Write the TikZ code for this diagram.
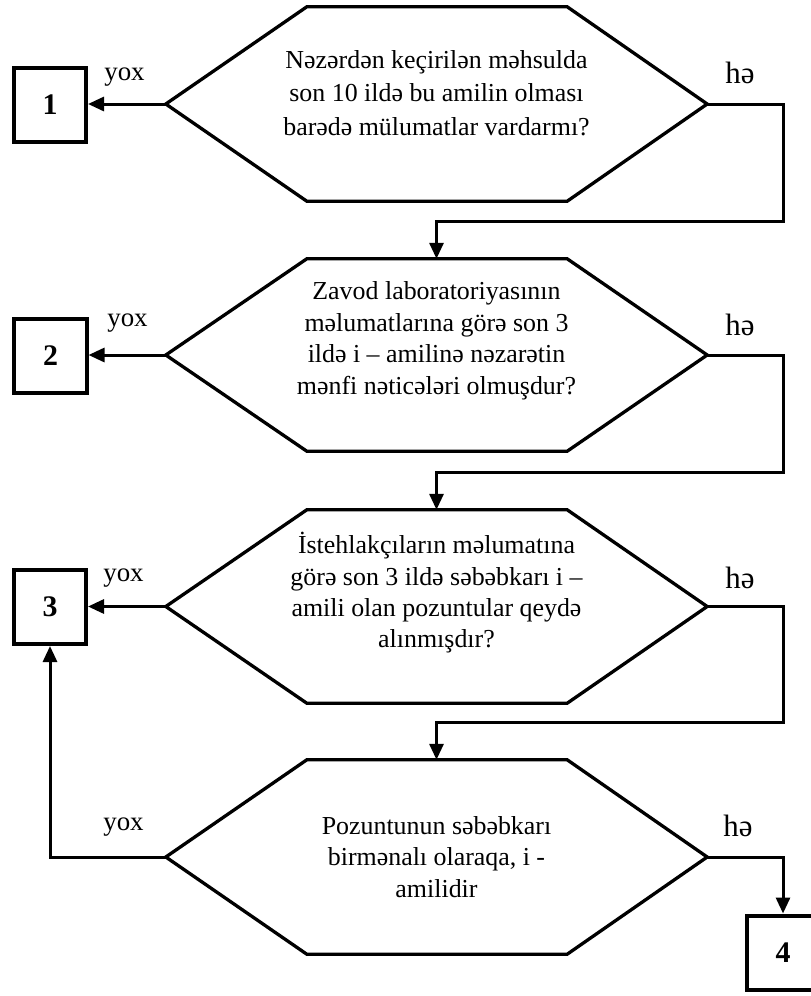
\documentclass[tikz,border=0pt]{standalone}
\usepackage{fontspec}
\setmainfont{Liberation Serif}
\usetikzlibrary{arrows.meta,calc}
\begin{document}
\begin{tikzpicture}[x=1bp,y=-1bp,
  question/.style={minimum width=541bp, minimum height=194bp, inner sep=0pt,
    align=center, font=\fontsize{26}{31.5}\selectfont},
  outline/.style={line width=3.3bp, line join=miter},
  numbox/.style={draw, line width=4bp, minimum width=72bp, minimum height=74bp,
    inner sep=0pt, font=\fontsize{30}{30}\selectfont\bfseries},
  conn/.style={line width=3bp, -{Triangle[length=16bp,width=14bp]}},
  nolbl/.style={inner sep=0pt, font=\fontsize{27}{27}\selectfont},
  yeslbl/.style={inner sep=0pt, font=\fontsize{31}{31}\selectfont},
]
\useasboundingbox (0,0) rectangle (811,996);

% decision blocks
\node[question, font=\fontsize{26}{34}\selectfont, text depth=22bp] (q1) at (436.5,104)
  {Nəzərdən keçirilən məhsulda\\son 10 ildə bu amilin olması\\barədə mülumatlar vardarmı?};
\node[question, minimum height=192bp, text depth=34bp] (q2) at (436.5,355)
  {Zavod laboratoriyasının\\məlumatlarına görə son 3\\ildə i – amilinə nəzarətin\\mənfi nəticələri olmuşdur?};
\node[question, minimum height=193bp, text depth=33bp] (q3) at (436.5,606.5)
  {İstehlakçıların məlumatına\\görə son 3 ildə səbəbkarı i –\\amili olan pozuntular qeydə\\alınmışdır?};
\node[question] (q4) at (436.5,857)
  {Pozuntunun səbəbkarı\\birmənalı olaraqa, i -\\amilidir};

\foreach \q in {q1,q2,q3,q4}
  \draw[outline] (\q.west) -- ([xshift=141bp]\q.north west)
    -- ([xshift=-140bp]\q.north east) -- (\q.east)
    -- ([xshift=-140bp]\q.south east) -- ([xshift=141bp]\q.south west) -- cycle;

% outcome boxes
\node[numbox] (b1) at (50,105) {1};
\node[numbox] (b2) at (50.5,356) {2};
\node[numbox] (b3) at (50,607) {3};
\node[numbox] (b4) at (783,952.5) {4};

% bends of the "yes" paths
\coordinate (j1) at (783,221);
\coordinate (j2) at (783,472);
\coordinate (j3) at (783,722);

% "no" paths
\draw[conn] (q1.west) -- (q1.west -| b1.east);
\draw[conn] (q2.west) -- (q2.west -| b2.east);
\draw[conn] (q3.west) -- (q3.west -| b3.east);
\draw[conn] (q4.west) -| (b3.south);

% "yes" paths
\draw[conn] (q1.east) -| (j1) -| (q2.north);
\draw[conn] (q2.east) -| (j2) -| (q3.north);
\draw[conn] (q3.east) -| (j3) -| (q4.north);
\draw[conn] (q4.east) -| (b4.north);

% branch labels
\node[nolbl] (n1) at (124.5,77) {yox};
\node[nolbl] (n2) at (127.5,323) {yox};
\node[nolbl] (n3) at (123.5,578) {yox};
\node[nolbl] (n4) at (123.5,827.5) {yox};
\node[yeslbl] (y1) at (740,72.5) {hə};
\node[yeslbl] (y2) at (740,325) {hə};
\node[yeslbl] (y3) at (740,578) {hə};
\node[yeslbl] (y4) at (738,826) {hə};
\end{tikzpicture}
\end{document}
